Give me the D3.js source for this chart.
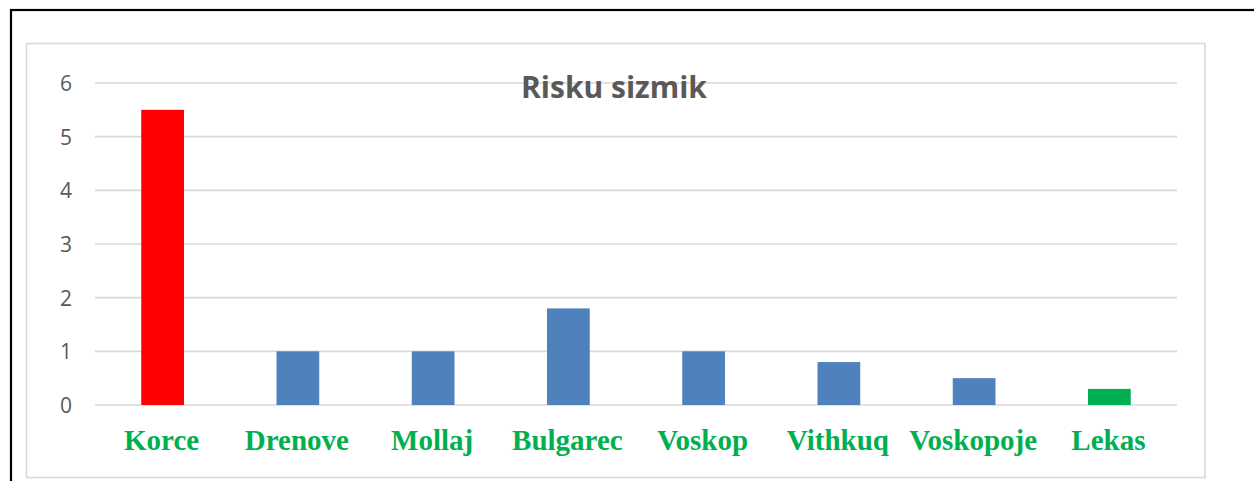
<!DOCTYPE html>
<html>
<head>
<meta charset="utf-8">
<script src="https://cdn.jsdelivr.net/npm/d3@7"></script>
<style>
  html, body { margin: 0; padding: 0; background: #fff; }
  svg { display: block; }
</style>
</head>
<body>
<svg id="chart" width="1254" height="481"></svg>
<script>
const categories = ["Korce", "Drenove", "Mollaj", "Bulgarec", "Voskop", "Vithkuq", "Voskopoje", "Lekas"];
const values = [5.5, 1, 1, 1.8, 1, 0.8, 0.5, 0.3];
const barColors = ["#ff0000", "#4f81bd", "#4f81bd", "#4f81bd", "#4f81bd", "#4f81bd", "#4f81bd", "#00b050"];
const yTicks = [0, 1, 2, 3, 4, 5, 6];
const title = "Risku sizmik";

const svg = d3.select("#chart");

// outer black frame (extends beyond right/bottom edges)
svg.append("rect")
  .attr("x", 11).attr("y", 10)
  .attr("width", 1300).attr("height", 500)
  .attr("fill", "none").attr("stroke", "#000").attr("stroke-width", 2.2);

// chart area border
svg.append("rect")
  .attr("x", 26.5).attr("y", 43.5)
  .attr("width", 1178.5).attr("height", 434)
  .attr("fill", "#fff").attr("stroke", "#d9d9d9").attr("stroke-width", 1.6);

const plot = { left: 95, right: 1177, top: 83, bottom: 405 };

const x = d3.scaleBand()
  .domain(categories)
  .range([plot.left, plot.right])
  .paddingInner(0.684)
  .paddingOuter(0.342);

const y = d3.scaleLinear()
  .domain([0, 6])
  .range([plot.bottom, plot.top]);

// gridlines
svg.append("g")
  .selectAll("line")
  .data(yTicks)
  .join("line")
  .attr("x1", plot.left).attr("x2", plot.right)
  .attr("y1", d => y(d)).attr("y2", d => y(d))
  .attr("stroke", "#d9d9d9").attr("stroke-width", 1.6);

// y axis labels
const yAxis = d3.axisLeft(y).tickValues(yTicks).tickSize(0).tickPadding(0).tickFormat(d3.format("d"));
const yg = svg.append("g").attr("transform", `translate(${plot.left - 23},0)`).call(yAxis);
yg.select(".domain").remove();
yg.selectAll("text")
  .attr("fill", "#595959")
  .attr("font-family", "'Open Sans', sans-serif")
  .attr("font-size", 21)
  .attr("dy", "0.36em");

// title
svg.append("text")
  .attr("x", 614).attr("y", 98)
  .attr("text-anchor", "middle")
  .attr("font-family", "'Open Sans', sans-serif")
  .attr("font-weight", "bold")
  .attr("font-size", 30)
  .attr("fill", "#595959")
  .text(title);

// bars
svg.append("g")
  .selectAll("rect")
  .data(values)
  .join("rect")
  .attr("x", (d, i) => x(categories[i]))
  .attr("width", x.bandwidth())
  .attr("y", d => y(d))
  .attr("height", d => y(0) - y(d))
  .attr("fill", (d, i) => barColors[i]);

// x axis labels
const xAxis = d3.axisBottom(x).tickSize(0).tickPadding(0);
const xg = svg.append("g").attr("transform", `translate(-1,${plot.bottom})`).call(xAxis);
xg.select(".domain").remove();
xg.selectAll("text")
  .attr("y", 45)
  .attr("dy", 0)
  .attr("fill", "#00b050")
  .attr("font-family", "'Liberation Serif', 'Times New Roman', serif")
  .attr("font-weight", "bold")
  .attr("font-size", 29);
</script>
</body>
</html>
